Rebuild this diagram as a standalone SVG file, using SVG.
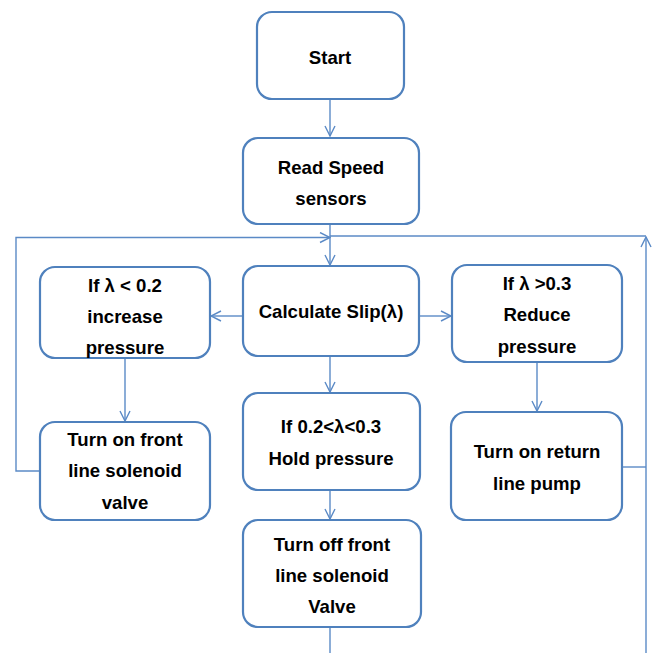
<svg xmlns="http://www.w3.org/2000/svg" width="656" height="653" viewBox="0 0 656 653">
<defs>
<style>
.box{fill:#ffffff;stroke:#4f81bd;stroke-width:2.2}
.t{font-family:"Liberation Sans",Arial,sans-serif;font-weight:bold;font-size:18.6px;fill:#000;text-anchor:middle}
.c{fill:none;stroke:#5b8ac6;stroke-width:1.4}
</style>
<marker id="ah" viewBox="0 0 12 12" refX="11" refY="6" markerWidth="12" markerHeight="12" markerUnits="userSpaceOnUse" orient="auto">
<path d="M1,1 L11,6 L1,11" fill="none" stroke="#5b8ac6" stroke-width="1.4"/>
</marker>
</defs>
<rect width="656" height="653" fill="#ffffff"/>
<g id="connectors">
<line class="c" x1="330" y1="99" x2="330" y2="136" marker-end="url(#ah)"/>
<line class="c" x1="330" y1="224" x2="330" y2="265" marker-end="url(#ah)"/>
<line class="c" x1="243" y1="316" x2="211" y2="316" marker-end="url(#ah)"/>
<line class="c" x1="419" y1="316" x2="451" y2="316" marker-end="url(#ah)"/>
<line class="c" x1="125" y1="358" x2="125" y2="421" marker-end="url(#ah)"/>
<line class="c" x1="330" y1="356" x2="330" y2="392" marker-end="url(#ah)"/>
<line class="c" x1="537" y1="362" x2="537" y2="411" marker-end="url(#ah)"/>
<line class="c" x1="330" y1="490" x2="330" y2="519" marker-end="url(#ah)"/>
<line class="c" x1="330" y1="627" x2="330" y2="653"/>
<polyline class="c" points="40,471 16,471 16,237.5 330,237.5" marker-end="url(#ah)"/>
<polyline class="c" points="330,236 646,236"/>
<polyline class="c" points="622,467 646,467"/>
<line class="c" x1="646" y1="653" x2="646" y2="237" marker-end="url(#ah)"/>
</g>
<g id="start">
<rect class="box" x="257" y="12" width="147" height="87" rx="15"/>
<text class="t" x="330" y="64">Start</text>
</g>
<g id="read">
<rect class="box" x="243" y="138" width="176" height="86" rx="15"/>
<text class="t" x="331" y="174">Read Speed</text>
<text class="t" x="331" y="205">sensors</text>
</g>
<g id="calc">
<rect class="box" x="243" y="266" width="176" height="90" rx="15"/>
<text class="t" x="331" y="318">Calculate Slip(λ)</text>
</g>
<g id="increase">
<rect class="box" x="40" y="267" width="170" height="91" rx="15"/>
<text class="t" x="125" y="292">If λ &lt; 0.2</text>
<text class="t" x="125" y="323">increase</text>
<text class="t" x="125" y="354">pressure</text>
</g>
<g id="reduce">
<rect class="box" x="452" y="265" width="170" height="97" rx="15"/>
<text class="t" x="537" y="290">If λ &gt;0.3</text>
<text class="t" x="537" y="321">Reduce</text>
<text class="t" x="537" y="353">pressure</text>
</g>
<g id="hold">
<rect class="box" x="243" y="393" width="177" height="97" rx="15"/>
<text class="t" x="331" y="433">If 0.2&lt;λ&lt;0.3</text>
<text class="t" x="331" y="465">Hold pressure</text>
</g>
<g id="frontOn">
<rect class="box" x="40" y="422" width="170" height="98" rx="15"/>
<text class="t" x="125" y="446">Turn on front</text>
<text class="t" x="125" y="477">line solenoid</text>
<text class="t" x="125" y="509">valve</text>
</g>
<g id="pump">
<rect class="box" x="451" y="412" width="171" height="108" rx="15"/>
<text class="t" x="537" y="458">Turn on return</text>
<text class="t" x="537" y="490">line pump</text>
</g>
<g id="frontOff">
<rect class="box" x="243" y="520" width="178" height="107" rx="15"/>
<text class="t" x="332" y="551">Turn off front</text>
<text class="t" x="332" y="582">line solenoid</text>
<text class="t" x="332" y="613">Valve</text>
</g>
</svg>
